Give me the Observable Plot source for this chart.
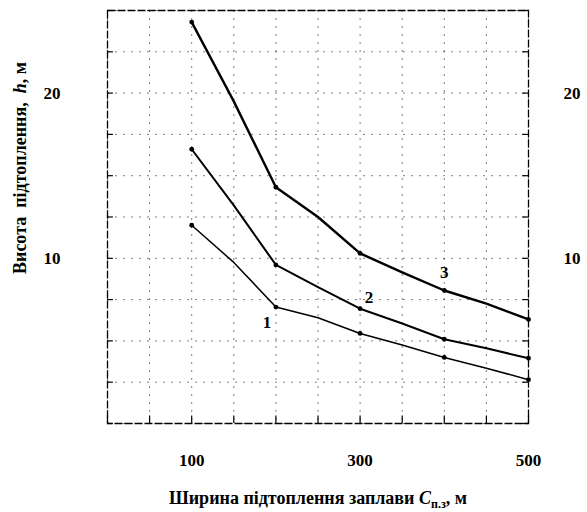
<!DOCTYPE html>
<html><head><meta charset="utf-8">
<script src="https://cdn.jsdelivr.net/npm/d3@7"></script>
<script src="https://cdn.jsdelivr.net/npm/@observablehq/plot@0.6"></script>
<style>body{margin:0;background:#fff}</style>
</head><body><div id="chart"></div>
<script>
// Floodplain inundation width, m (x)
const widths = [100, 150, 200, 250, 300, 350, 400, 450, 500];
// Inundation height h, m for curves 1, 2, 3
const curve1 = [12.0, 9.75, 7.05, 6.4, 5.45, 4.75, 4.0, 3.35, 2.65];
const curve2 = [16.6, 13.2, 9.6, 8.25, 6.95, 6.05, 5.1, 4.55, 3.95];
const curve3 = [24.3, 19.5, 14.3, 12.5, 10.3, 9.15, 8.05, 7.25, 6.3];
const curveNames = ["1", "2", "3"];
const markedWidths = [100, 200, 300, 400, 500];
const xTicks = [100, 300, 500];
const yTicks = [10, 20];
const xGrid = [0, 50, 100, 150, 200, 250, 300, 350, 400, 450, 500];
const yGrid = [0, 2.5, 5, 7.5, 10, 12.5, 15, 17.5, 20, 22.5, 25];
// curve label anchors: which width each label sits beside
const labelAt = [200, 300, 400];

const series = [curve1, curve2, curve3];
const rows = [];
series.forEach((s, i) => widths.forEach((w, j) => rows.push({curve: curveNames[i], w, h: s[j]})));
const dots = rows.filter(d => markedWidths.includes(d.w));
const labels = curveNames.map((c, i) => rows.find(d => d.curve === c && d.w === labelAt[i]));

const serif = "'Liberation Serif', 'Times New Roman', serif";

const chart = Plot.plot({
  width: 587,
  height: 512,
  marginLeft: 107,
  marginRight: 59,
  marginTop: 10,
  marginBottom: 89,
  style: {fontFamily: serif, background: "#fff", color: "#000"},
  x: {domain: [0, 500]},
  y: {domain: [0, 25]},
  marks: [
    Plot.ruleX(xGrid, {stroke: "#000", strokeOpacity: 0.5, strokeDasharray: "2,6"}),
    Plot.ruleY(yGrid, {stroke: "#000", strokeOpacity: 0.5, strokeDasharray: "2,6"}),
    Plot.ruleY(yGrid, {x1: 0, x2: 7, stroke: "#000", strokeWidth: 1.2}),
    Plot.ruleY(yGrid, {x1: 493, x2: 500, stroke: "#000", strokeWidth: 1.2}),
    Plot.ruleX(xGrid, {y1: 0, y2: 0.45, stroke: "#000", strokeWidth: 1.2}),
    Plot.frame({stroke: "#000", strokeWidth: 1.3, strokeDasharray: "8,2"}),
    Plot.line(rows.filter(d => d.curve === "1"), {x: "w", y: "h", stroke: "#000", strokeWidth: 1.5}),
    Plot.line(rows.filter(d => d.curve === "2"), {x: "w", y: "h", stroke: "#000", strokeWidth: 2}),
    Plot.line(rows.filter(d => d.curve === "3"), {x: "w", y: "h", stroke: "#000", strokeWidth: 2.4}),
    Plot.dot(dots, {x: "w", y: "h", r: 2.4, fill: "#000"}),
    Plot.text([labels[0]], {x: "w", y: "h", text: "curve", dx: -9, dy: 16, fontSize: 17, fontWeight: "bold"}),
    Plot.text([labels[1]], {x: "w", y: "h", text: "curve", dx: 9, dy: -11, fontSize: 17, fontWeight: "bold"}),
    Plot.text([labels[2]], {x: "w", y: "h", text: "curve", dx: 0, dy: -18, fontSize: 17, fontWeight: "bold"}),
    Plot.axisX(xTicks, {anchor: "bottom", tickSize: 0, tickPadding: 30, fontSize: 17, fontWeight: "bold", label: null}),
    Plot.axisY(yTicks, {anchor: "left", tickSize: 0, tickPadding: 47, fontSize: 17, fontWeight: "bold", label: null}),
    Plot.axisY(yTicks, {anchor: "right", tickSize: 0, tickPadding: 35, fontSize: 17, fontWeight: "bold", label: null})
  ]
});

const svg = d3.select(chart);
const xl = svg.append("text")
  .attr("x", 318).attr("y", 504)
  .attr("text-anchor", "middle")
  .attr("font-family", serif).attr("font-size", 18).attr("font-weight", "bold").attr("fill", "#000");
xl.append("tspan").text("Ширина підтоплення заплави ");
xl.append("tspan").attr("font-style", "italic").text("C");
xl.append("tspan").attr("font-size", 12).attr("dy", 4).text("п.з");
xl.append("tspan").attr("dy", -4).text(", м");

const yl = svg.append("text")
  .attr("transform", "translate(26,168) rotate(-90)")
  .attr("text-anchor", "middle")
  .attr("font-family", serif).attr("font-size", 18).attr("font-weight", "bold").attr("fill", "#000");
yl.append("tspan").text("Висота  підтоплення,  ");
yl.append("tspan").attr("font-style", "italic").text("h");
yl.append("tspan").text(", м");

document.getElementById("chart").appendChild(chart);
</script>
</body></html>
